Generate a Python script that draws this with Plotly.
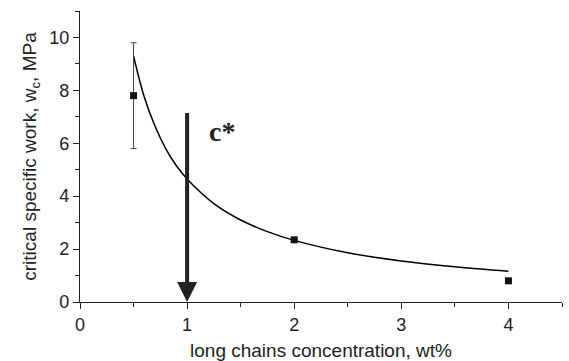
import plotly.graph_objects as go

# measured points
conc = [0.5, 2, 4]
work = [7.8, 2.35, 0.8]
err = [2.0, 0, 0]

# fitted curve
fit_x = [0.5, 0.6, 0.7, 0.8, 0.9, 1.0, 1.25, 1.5, 1.75, 2.0, 2.5, 3.0, 3.5, 4.0]
fit_y = [9.3, 7.75, 6.65, 5.8, 5.15, 4.65, 3.72, 3.1, 2.66, 2.33, 1.86, 1.55, 1.33, 1.16]

x_ticks = [0, 1, 2, 3, 4]
y_ticks = [0, 2, 4, 6, 8, 10]

c_star = 1.0
arrow_top = 7.2

FONT = "Liberation Sans, Arial, sans-serif"

fig = go.Figure()
fig.add_trace(go.Scatter(x=fit_x, y=fit_y, mode="lines", line=dict(color="black", width=1.5, shape="spline"),
                         showlegend=False, hoverinfo="skip"))
fig.add_trace(go.Scatter(x=conc, y=work, mode="markers",
                         marker=dict(symbol="square", size=7, color="#111"),
                         error_y=dict(type="data", array=err, visible=True, color="#444", thickness=1, width=3),
                         showlegend=False))

fig.add_annotation(x=c_star, y=0, ax=c_star, ay=arrow_top, xref="x", yref="y", axref="x", ayref="y",
                   showarrow=True, arrowhead=2, arrowsize=1, arrowwidth=4, arrowcolor="#222", text="")
fig.add_annotation(x=1.33, y=6.45, xref="x", yref="y", text="<b>c*</b>", showarrow=False,
                   font=dict(family="Liberation Serif, Times New Roman, serif", size=28, color="#222"))

axis_common = dict(showline=True, linecolor="#222", linewidth=1.2, ticks="outside", ticklen=6,
                   tickcolor="#222", tickwidth=1.2, showgrid=False, zeroline=False, automargin=False,
                   tickfont=dict(family=FONT, size=18, color="#222"))
fig.update_xaxes(range=[0, 4.5], tickvals=x_ticks,
                 minor=dict(dtick=0.5, ticks="outside", ticklen=4, tickcolor="#222", tickwidth=1.2),
                 title=dict(text="long chains concentration, wt%", standoff=9,
                            font=dict(family=FONT, size=19, color="#222")),
                 **axis_common)
fig.update_yaxes(range=[0, 11], tickvals=y_ticks,
                 minor=dict(dtick=1, ticks="outside", ticklen=4, tickcolor="#222", tickwidth=1.2),
                 title=dict(text="critical specific work, w<sub>c</sub>, MPa", standoff=7,
                            font=dict(family=FONT, size=19, color="#222")),
                 **axis_common)
fig.update_layout(width=569, height=361, margin=dict(l=80, r=7, t=11, b=59),
                  plot_bgcolor="white", paper_bgcolor="white")
fig.write_html("out.html")
